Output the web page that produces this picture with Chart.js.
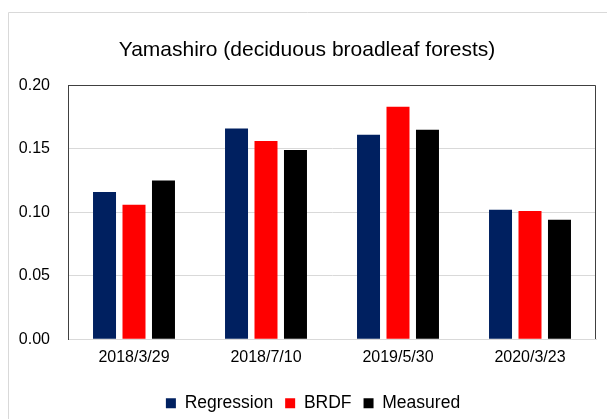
<!DOCTYPE html>
<html>
<head>
<meta charset="utf-8">
<script src="https://cdn.jsdelivr.net/npm/chart.js@4/dist/chart.umd.min.js"></script>
<style>
  html, body { margin: 0; padding: 0; background: #fff; }
  #wrap { position: relative; width: 607px; height: 419px; }
</style>
</head>
<body>
<div id="wrap"><canvas id="cnvChart" width="607" height="419"></canvas></div>
<script>
let dates = ["2018/3/29", "2018/7/10", "2019/5/30", "2020/3/23"];
let regression = [0.116, 0.166, 0.161, 0.102];
let brdf = [0.106, 0.156, 0.183, 0.101];
let measured = [0.125, 0.149, 0.165, 0.094];
let yTicks = [0, 0.05, 0.10, 0.15, 0.20];

Chart.defaults.font.family = "'Liberation Sans', Arial, sans-serif";

// frame lines: outer grey edge + plot box top/right
let framePlugin = {
    id: "frame",
    afterLayout: function (chart) {
        // legend sits a bit right and lower than the default spot
        chart.legend.left += 12;
        chart.legend.top += 6;
        chart.legend.bottom += 6;
    },
    beforeDraw: function (chart) {
        let ctx = chart.ctx;
        ctx.save();
        ctx.strokeStyle = "#d9d9d9";
        ctx.lineWidth = 1;
        ctx.beginPath();
        ctx.moveTo(8.5, 419);
        ctx.lineTo(8.5, 12.5);
        ctx.lineTo(607, 12.5);
        ctx.stroke();
        ctx.restore();
    },
    afterDraw: function (chart) {
        let a = chart.chartArea;
        let ctx = chart.ctx;
        ctx.save();
        ctx.strokeStyle = "#404040";
        ctx.lineWidth = 1;
        ctx.beginPath();
        ctx.moveTo(Math.round(a.left) + 0.5, Math.round(a.top) + 0.5);
        ctx.lineTo(Math.round(a.right) - 0.5, Math.round(a.top) + 0.5);
        ctx.lineTo(Math.round(a.right) - 0.5, Math.round(a.bottom));
        ctx.stroke();
        ctx.restore();
    }
};

let barOpts = { categoryPercentage: 0.67, barPercentage: 0.78, borderWidth: 0 };

new Chart(document.getElementById("cnvChart").getContext("2d"), {
    type: "bar",
    data: {
        labels: dates,
        datasets: [
            Object.assign({ label: "Regression", data: regression, backgroundColor: "#002060" }, barOpts),
            Object.assign({ label: "BRDF", data: brdf, backgroundColor: "#ff0000" }, barOpts),
            Object.assign({ label: "Measured", data: measured, backgroundColor: "#000000" }, barOpts)
        ]
    },
    options: {
        responsive: false,
        animation: false,
        layout: { padding: { left: 18, right: 11, top: 12, bottom: 3 } },
        plugins: {
            title: {
                display: true,
                text: "Yamashiro (deciduous broadleaf forests)",
                color: "#000",
                font: { size: 21, weight: "normal" },
                padding: { top: 26, bottom: 22 }
            },
            legend: {
                position: "bottom",
                labels: {
                    color: "#000",
                    font: { size: 17.5 },
                    boxWidth: 10,
                    boxHeight: 10,
                    padding: 12
                }
            },
            tooltip: { enabled: false }
        },
        scales: {
            x: {
                grid: { display: false, drawTicks: false },
                border: { color: "#d9d9d9" },
                ticks: { color: "#000", font: { size: 16 }, padding: 9 }
            },
            y: {
                min: 0,
                max: 0.2,
                afterFit: function (scale) { scale.width = 50; },
                afterBuildTicks: function (scale) {
                    scale.ticks = yTicks.map(function (v) { return { value: v }; });
                },
                grid: { color: "#d9d9d9", drawTicks: false },
                border: { color: "#404040" },
                ticks: {
                    color: "#000",
                    font: { size: 16 },
                    padding: 18,
                    callback: function (v) { return v.toFixed(2); }
                }
            }
        }
    },
    plugins: [framePlugin]
});
</script>
</body>
</html>
